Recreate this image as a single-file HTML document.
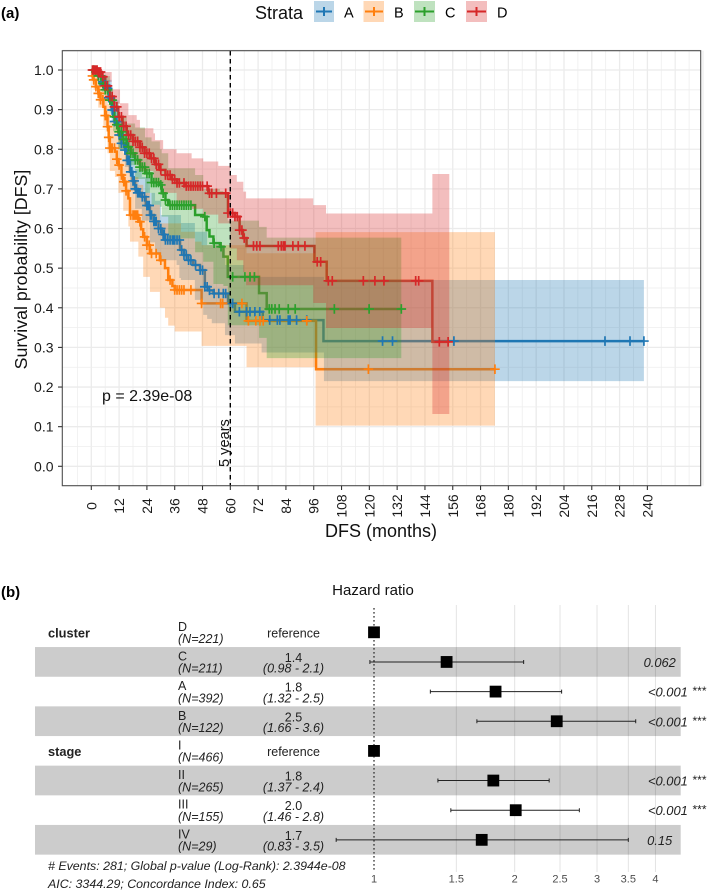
<!DOCTYPE html>
<html lang="en">
<head>
<meta charset="utf-8">
<title>Survival curves and hazard ratios</title>
<style>
html,body{margin:0;padding:0;background:#fff;}
svg{display:block;font-family:"Liberation Sans",sans-serif;}
</style>
</head>
<body>
<svg id="fig" xmlns="http://www.w3.org/2000/svg" width="708" height="893" viewBox="0 0 708 893">
  <rect x="0" y="0" width="708" height="893" fill="#fff"/>
  <g id="grid"></g>
  <g id="lines"></g>
  <g id="bands"></g>
  <g id="censors"></g>
  <line x1="230.3" x2="230.3" y1="51" y2="485.5" stroke="#000" stroke-width="1.4" stroke-dasharray="4.5 3.5"/>
  <rect x="62.3" y="50.7" width="638.4" height="435" fill="none" stroke="#4d4d4d" stroke-width="1.1"/>
  <g id="axes"></g>

  <text x="1" y="18" font-size="15" font-weight="bold">(a)</text>
  <text x="255" y="19" font-size="18" fill="#111">Strata</text>
  <g>
    <rect x="314" y="1" width="20" height="21" fill="#1f77b4" fill-opacity="0.3"/>
    <path d="M316 11.5H332M324 7V16" stroke="#1f77b4" stroke-width="2" fill="none"/>
    <text x="344" y="17.5" font-size="14.5">A</text>
  </g>
  <g>
    <rect x="363.5" y="1" width="20.5" height="21" fill="#ff7f0e" fill-opacity="0.3"/>
    <path d="M365 11.5H383M374 7V16" stroke="#ff7f0e" stroke-width="2" fill="none"/>
    <text x="394" y="17.5" font-size="14.5">B</text>
  </g>
  <g>
    <rect x="414" y="1" width="21" height="21" fill="#2ca02c" fill-opacity="0.3"/>
    <path d="M415 11.5H434M424.5 7V16" stroke="#2ca02c" stroke-width="2" fill="none"/>
    <text x="445" y="17.5" font-size="14.5">C</text>
  </g>
  <g>
    <rect x="466" y="1" width="21" height="21" fill="#d62728" fill-opacity="0.3"/>
    <path d="M467 11.5H486M476.5 7V16" stroke="#d62728" stroke-width="2" fill="none"/>
    <text x="497" y="17.5" font-size="14.5">D</text>
  </g>

  <text transform="translate(27,269.5) rotate(-90)" text-anchor="middle" font-size="17.8" fill="#111">Survival probability [DFS]</text>
  <text x="381" y="537" text-anchor="middle" font-size="18" fill="#111">DFS (months)</text>
  <text x="102" y="401" font-size="16" fill="#111">p = 2.39e-08</text>
  <text transform="translate(229,467) rotate(-90)" font-size="14.6" fill="#111">5 years</text>

  <text x="1" y="597" font-size="15" font-weight="bold">(b)</text>
  <text x="373" y="595" text-anchor="middle" font-size="15" fill="#111">Hazard ratio</text>
  <g id="forest"></g>
  <text x="48" y="870" font-size="12.4" font-style="italic" fill="#222"># Events: 281; Global p-value (Log-Rank): 2.3944e-08</text>
  <text x="48" y="888" font-size="12.4" font-style="italic" fill="#222">AIC: 3344.29; Concordance Index: 0.65</text>
</svg>
<script>
/* ---------- survival data (months, probability) ---------- */
const xTicks = [0,12,24,36,48,60,72,84,96,108,120,132,144,156,168,180,192,204,216,228,240];
const yTicks = ["0.0","0.1","0.2","0.3","0.4","0.5","0.6","0.7","0.8","0.9","1.0"];

const timesA = [0,2,3,4.5,5.5,6.6,7.5,8.8,10,11.7,13,14.5,15.5,16.7,17.8,18.9,20,21.8,23.5,25.3,27,29,30.5,31.8,38.3,40,41.9,44,46.9,49,50.5,52.7,59,62,74,100.2,238.5];
const survA  = [1,.995,.985,.97,.962,.954,.93,.899,.87,.836,.815,.798,.772,.743,.72,.70,.69,.68,.658,.634,.618,.60,.585,.571,.546,.533,.52,.508,.495,.453,.444,.436,.411,.39,.369,.316,.316];
const timesB = [0,.5,1,2,3,4,5.2,6,7,7.5,8,10.2,11,11.7,13,13.8,15,16,16.7,20.3,21.5,22.4,24,25.3,29.6,31.8,33.2,35,36,47.6,67,97,174.2];
const survB  = [1,.985,.975,.958,.941,.925,.907,.885,.857,.83,.803,.794,.775,.76,.735,.718,.695,.676,.634,.617,.598,.579,.558,.537,.52,.5,.47,.455,.445,.411,.367,.245,.245];
const timesC = [0,2,3,4.5,6,8,9.4,10.5,11.7,13.5,15.3,17,18.9,21,23.2,26,29.6,30.4,32,33.2,44.8,48.3,49.8,51,52.7,55.5,57,58.9,72.4,75.7,133.8];
const survC  = [1,.995,.985,.966,.95,.924,.882,.862,.844,.825,.806,.79,.773,.755,.739,.716,.71,.689,.672,.659,.634,.63,.596,.58,.563,.554,.529,.478,.437,.397,.397];
const timesD = [0,2,3,4.5,6,8,9.8,11.7,13.5,15.3,18,21,23,25.3,27.5,29.6,32,34.7,37,40.4,50.5,59,62,64,65.5,67,96.3,101.6,147.2,154.5];
const survD  = [1,1,.995,.983,.96,.933,.907,.882,.858,.836,.82,.805,.79,.777,.762,.748,.735,.724,.715,.707,.689,.639,.63,.596,.576,.556,.516,.468,.314,.314];

const bandTimesA = [0,4.5,6.6,8.8,11.7,14.5,16.7,18.9,21.8,25.3,27.5,30,36.8,38,38.7,44.7,48.3,50,52,57.7,62,66,73.5,100.4,238.5];
const upperA = [1,.985,.975,.925,.87,.84,.79,.75,.73,.69,.67,.634,.634,.634,.614,.592,.592,.558,.558,.508,.508,.478,.478,.47,.47];
const lowerA = [1,.955,.93,.87,.80,.755,.695,.65,.62,.565,.538,.52,.508,.475,.47,.42,.382,.372,.361,.331,.31,.31,.287,.215,.215];
const bandTimesB = [0,1,3,5.2,7,8,10.2,11.7,13.8,16,16.7,20.3,22.4,25.3,29.6,31.8,33.2,36,38.7,44.7,47.6,67,96.8,174.2];
const upperB = [1,.995,.975,.95,.915,.87,.86,.83,.79,.76,.73,.71,.69,.66,.613,.613,.613,.613,.592,.567,.558,.5375,.591,.591];
const lowerB = [1,.95,.905,.86,.79,.745,.73,.69,.645,.605,.567,.529,.478,.44,.40,.375,.355,.34,.34,.34,.304,.25,.1025,.1025];
const bandTimesC = [0,4.5,8,9.4,11.7,15.3,18.9,23.2,26,29.6,30.4,33.2,44.8,48.3,49.8,52.7,55.5,57,58.9,72.4,75.7,133.8];
const upperC = [1,.985,.955,.92,.885,.865,.855,.83,.82,.80,.79,.752,.735,.70,.70,.70,.695,.69,.62,.604,.577,.577];
const lowerC = [1,.945,.89,.845,.80,.76,.725,.69,.66,.655,.63,.575,.54,.516,.516,.46,.46,.455,.356,.324,.273,.273];
const bandTimesD = [0,4.5,8.8,12.4,16,19.6,21,26.8,27.5,31,36.8,43.3,48.3,54.8,60,62.8,65.6,66.8,95.8,101.3,147.2,154.5];
const upperD = [1,.995,.951,.916,.886,.874,.853,.84,.823,.80,.79,.777,.769,.758,.735,.718,.693,.676,.659,.638,.7375,.7375];
const lowerD = [1,.97,.915,.845,.785,.76,.745,.72,.715,.69,.665,.65,.635,.613,.55,.52,.49,.457,.412,.349,.132,.132];

const censorA = [3,4,5,5.5,6,7,7.5,8,9,9.5,10,11,12,12.5,13,14,14.5,15,15.5,16,16.5,17,17.5,18,18.5,19,19.5,20,20.5,21,22,23,24,24.5,25,25.5,26,27,27.5,28,29,30,31,31.5,32,33,34,35,35.5,36,37,38,39,40,41,42,43,45,47,48,49,50,51,53,55,57,58,60,61,63.9,67,68.5,70.6,72.7,77,80.3,81.4,85,85.3,85.8,88.6,93,125.7,130,156.5,221.7,232.5,238.5];
const censorB = [.5,1,2,3,3.5,4,5,6,6.5,7,7.5,8,8.5,9,10,11,12,13,14,14.5,15,17,18,18.5,19,19.5,20,21,23,24,25,26,28,30,34,36,37,38,39,40,43,47.6,55.8,56.7,65,67.8,71,72.8,74.2,93,119.6,174.2];
const censorC = [1,2,3,4,5,6,7,8,9,10,11,12,13,14,15,16,17,18,19,20,21,22,23,24,25,26,27,28,29,30,31,32,34,35,36,37,38,39,40,41,42,43,49,53,56,61,66.3,68.5,70.4,76.8,77.9,79.3,81.1,85,88,104.9,119.9,133.8];
const censorD = [.5,1,1.5,2,2.5,3,3.5,4,5,6,7,8,9,10,11,12,13,14,15,16,17,18,19,20,21,22,23,24,25,26,27,28,29,30,32,33,34,35,36,37,38,40,41,42,43,44,45,46,47,48,50,51,52,54,58,59,60,61,62,63,64,65,66,70,71.4,72.8,80.7,82,82.9,83.6,87,89.3,92.2,97.5,99,102.3,104,117.4,122.4,126.3,140,141.3,150.2,154];

/* ---------- forest data ---------- */
const forestLevels = ["D","C","A","B","I","II","III","IV"];
const forestNs     = ["(N=221)","(N=211)","(N=392)","(N=122)","(N=466)","(N=265)","(N=155)","(N=29)"];
const forestHrText = ["reference","1.4","1.8","2.5","reference","1.8","2.0","1.7"];
const forestCiText = ["","(0.98 - 2.1)","(1.32 - 2.5)","(1.66 - 3.6)","","(1.37 - 2.4)","(1.46 - 2.8)","(0.83 - 3.5)"];
const forestHr     = [1,1.43,1.82,2.46,1,1.80,2.01,1.70];
const forestLo     = [null,.98,1.32,1.66,null,1.37,1.46,.83];
const forestHi     = [null,2.09,2.52,3.63,null,2.37,2.75,3.5];
const forestP      = ["","0.062","<0.001","<0.001","","<0.001","<0.001","0.15"];
const forestStars  = ["","","***","***","","***","***",""];
const forestTicks  = [1,1.5,2,2.5,3,3.5,4];
const forestTickText = ["1","1.5","2","2.5","3","3.5","4"];
const forestGroups = ["cluster","","","","stage","","",""];

/* ---------- scales ---------- */
const NS = "http://www.w3.org/2000/svg";
const X = m => 91.3 + 2.317 * m;
const Y = s => 466.3 - 396.3 * s;
const HX = h => 374 + 203 * Math.log(h);
const rowY = i => 632.3 + 29.65 * i;

function mk(parent, tag, attrs, txt) {
  const el = document.createElementNS(NS, tag);
  for (const k in attrs) el.setAttribute(k, attrs[k]);
  if (txt !== undefined) el.textContent = txt;
  parent.appendChild(el);
  return el;
}
function stepLine(ts, vs) {
  let d = "M" + X(ts[0]).toFixed(2) + " " + Y(vs[0]).toFixed(2);
  for (let i = 1; i < ts.length; i++) {
    d += "H" + X(ts[i]).toFixed(2) + "V" + Y(vs[i]).toFixed(2);
  }
  return d;
}
function bandPath(ts, up, lo) {
  let d = "M" + X(ts[0]).toFixed(2) + " " + Y(up[0]).toFixed(2);
  for (let i = 1; i < ts.length; i++) {
    d += "H" + X(ts[i]).toFixed(2) + "V" + Y(up[i]).toFixed(2);
  }
  const last = ts.length - 1;
  d += "V" + Y(lo[last - 1]).toFixed(2);
  for (let i = last - 1; i >= 0; i--) {
    d += "H" + X(ts[i]).toFixed(2);
    if (i > 0) d += "V" + Y(lo[i - 1]).toFixed(2);
  }
  return d + "Z";
}
function survAt(ts, vs, m) {
  let v = vs[0];
  for (let i = 0; i < ts.length; i++) { if (ts[i] <= m) v = vs[i]; else break; }
  return v;
}

/* ---------- grid ---------- */
const gridG = document.getElementById("grid");
for (let i = 0; i < xTicks.length; i++) {
  const major = mk(gridG, "line", {x1:X(xTicks[i]),x2:X(xTicks[i]),y1:50.7,y2:485.7,stroke:"#ebebeb","stroke-width":1.3});
  
  
  const minorX = xTicks[i] + (xTicks[1] - xTicks[0]) / 2;
  const minor = mk(gridG, "line", {x1:X(minorX),x2:X(minorX),y1:50.7,y2:485.7,stroke:"#eeeeee","stroke-width":0.8});
  
  
}
const minorBefore = mk(gridG, "line", {x1:X(-6),x2:X(-6),y1:50.7,y2:485.7,stroke:"#eeeeee","stroke-width":0.8});


for (let m = 252; m <= 264; m += 6) {
  const extra = mk(gridG, "line", {x1:X(m),x2:X(m),y1:50.7,y2:485.7,stroke:"#eeeeee","stroke-width":m % 12 ? 0.8 : 1.3});
  
  
}
for (let i = 0; i < yTicks.length; i++) {
  const v = parseFloat(yTicks[i]);
  const major = mk(gridG, "line", {x1:62.3,x2:700.7,y1:Y(v),y2:Y(v),stroke:"#ebebeb","stroke-width":1.3});
  
  
  const minor = mk(gridG, "line", {x1:62.3,x2:700.7,y1:Y(v + .05),y2:Y(v + .05),stroke:"#eeeeee","stroke-width":0.8});
  
  
}

/* ---------- series ---------- */
const colA = "#1f77b4", colB = "#ff7f0e", colC = "#2ca02c", colD = "#d62728";
const linesG = document.getElementById("lines");
const bandsG = document.getElementById("bands");
const censG = document.getElementById("censors");

const lineA = mk(linesG, "path", {d:stepLine(timesA, survA),fill:"none",stroke:colA,"stroke-width":2.5});


const lineB = mk(linesG, "path", {d:stepLine(timesB, survB),fill:"none",stroke:colB,"stroke-width":2.5});


const lineC = mk(linesG, "path", {d:stepLine(timesC, survC),fill:"none",stroke:colC,"stroke-width":2.5});


const lineD = mk(linesG, "path", {d:stepLine(timesD, survD),fill:"none",stroke:colD,"stroke-width":2.5});



const bandA = mk(bandsG, "path", {d:bandPath(bandTimesA, upperA, lowerA),fill:colA,"fill-opacity":0.3});


const bandB = mk(bandsG, "path", {d:bandPath(bandTimesB, upperB, lowerB),fill:colB,"fill-opacity":0.3});


const bandC = mk(bandsG, "path", {d:bandPath(bandTimesC, upperC, lowerC),fill:colC,"fill-opacity":0.3});


const bandD = mk(bandsG, "path", {d:bandPath(bandTimesD, upperD, lowerD),fill:colD,"fill-opacity":0.3});



function censorPath(cs, ts, vs) {
  let d = "";
  for (const m of cs) {
    const px = X(m), py = Y(survAt(ts, vs, m));
    d += "M" + (px - 4.8).toFixed(2) + " " + py.toFixed(2) + "h9.6M" + px.toFixed(2) + " " + (py - 4.8).toFixed(2) + "v9.6";
  }
  return d;
}
const censA = mk(censG, "path", {d:censorPath(censorA, timesA, survA),fill:"none",stroke:colA,"stroke-width":1.7});


const censB = mk(censG, "path", {d:censorPath(censorB, timesB, survB),fill:"none",stroke:colB,"stroke-width":1.7});


const censC = mk(censG, "path", {d:censorPath(censorC, timesC, survC),fill:"none",stroke:colC,"stroke-width":1.7});


const censD = mk(censG, "path", {d:censorPath(censorD, timesD, survD),fill:"none",stroke:colD,"stroke-width":1.7});



/* ---------- axes ---------- */
const axesG = document.getElementById("axes");
for (const t of xTicks) {
  const tick = mk(axesG, "line", {x1:X(t),x2:X(t),y1:485.7,y2:490,stroke:"#333","stroke-width":1.1});
  
  
  const lab = mk(axesG, "text", {transform:"translate(" + (X(t) + 5) + ",506) rotate(-90)","text-anchor":"middle","font-size":14,fill:"#1a1a1a"}, String(t));
  
  
}
for (const t of yTicks) {
  const v = parseFloat(t);
  const tick = mk(axesG, "line", {x1:58,x2:62.3,y1:Y(v),y2:Y(v),stroke:"#333","stroke-width":1.1});
  
  
  const lab = mk(axesG, "text", {x:53.5,y:Y(v) + 5,"text-anchor":"end","font-size":14,fill:"#1a1a1a"}, t);
  
  
}

/* ---------- forest ---------- */
const fG = document.getElementById("forest");
for (let i = 0; i < forestLevels.length; i++) {
  if (i % 2 === 1) {
    const stripe = mk(fG, "rect", {x:35,y:rowY(i) - 14.9,width:645.7,height:29.7,fill:"#cccccc"});
    
    
  }
}
for (let i = 0; i < forestTicks.length; i++) {
  if (i > 0) {
    const gl = mk(fG, "line", {x1:HX(forestTicks[i]),x2:HX(forestTicks[i]),y1:605,y2:872,stroke:"#000","stroke-opacity":0.12,"stroke-width":0.9});
    
    
  }
  const lab = mk(fG, "text", {x:HX(forestTicks[i]),y:882.7,"text-anchor":"middle","font-size":11,fill:"#4d4d4d"}, forestTickText[i]);
  
  
}
const refLine = mk(fG, "line", {x1:HX(1),x2:HX(1),y1:608,y2:870,stroke:"#222","stroke-width":1.2,"stroke-dasharray":"1.6 2.4"});



for (let i = 0; i < forestLevels.length; i++) {
  const c = rowY(i);
  if (forestGroups[i]) {
    const g = mk(fG, "text", {x:48,y:c + 5,"font-size":12.8,"font-weight":"bold",fill:"#222"}, forestGroups[i]);
    
    
  }
  const lv = mk(fG, "text", {x:178,y:c - 1.5,"font-size":12.5,fill:"#222"}, forestLevels[i]);
  
  
  const n = mk(fG, "text", {x:178,y:c + 10.7,"font-size":12.5,"font-style":"italic",fill:"#222"}, forestNs[i]);
  
  
  const isRef = forestLo[i] === null;
  const hrT = mk(fG, "text", {x:293.5,y:isRef ? c + 5 : c,"text-anchor":"middle","font-size":12.5,fill:"#222"}, forestHrText[i]);
  
  
  if (!isRef) {
    const ciT = mk(fG, "text", {x:293.5,y:c + 10.7,"text-anchor":"middle","font-size":12.5,"font-style":"italic",fill:"#222"}, forestCiText[i]);
    
    
    const ci = mk(fG, "path", {d:"M" + HX(forestLo[i]) + " " + (c - 2) + "v4M" + HX(forestLo[i]) + " " + c + "H" + HX(forestHi[i]) + "M" + HX(forestHi[i]) + " " + (c - 2) + "v4",stroke:"#222",fill:"none","stroke-width":1});
    
    
    const pt = mk(fG, "text", {x:forestStars[i] ? 648 : 659.7,y:c + 5,"text-anchor":forestStars[i] ? "start" : "middle","font-size":12.9,"font-style":"italic",fill:"#222"}, forestP[i]);
    
    
    if (forestStars[i]) {
      const st = mk(fG, "text", {x:692,y:c + 3.5,"font-size":12,"font-style":"italic",fill:"#222"}, forestStars[i]);
      
      
    }
  }
  const sq = mk(fG, "rect", {x:HX(forestHr[i]) - 5.9,y:c - 5.9,width:11.8,height:11.8,fill:"#000"});
  
  
}
</script>
</body>
</html>
